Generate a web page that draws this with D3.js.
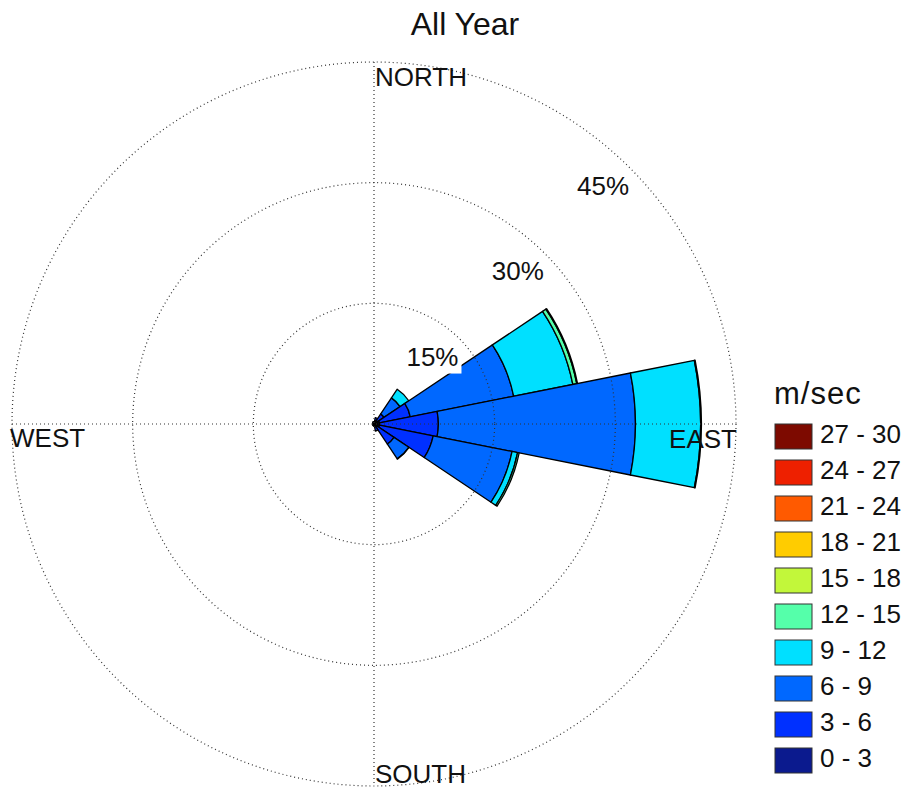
<!DOCTYPE html>
<html>
<head>
<meta charset="utf-8">
<script src="https://cdn.jsdelivr.net/npm/d3@7"></script>
<style>
  body { margin: 0; background: #fff; }
  svg text { font-family: "Liberation Sans", Arial, sans-serif; fill: #111; }
</style>
</head>
<body>
<div id="chart"></div>
<script>
const width = 907, height = 789;

// 16 compass sectors, clockwise from north
const directions = ["N","NNE","NE","ENE","E","ESE","SE","SSE","S","SSW","SW","WSW","W","WNW","NW","NNW"];
const speedBins = ["0 - 3","3 - 6","6 - 9","9 - 12","12 - 15","15 - 18","18 - 21","21 - 24","24 - 27","27 - 30"];
const binColors = ["#0b1a8e","#0030ff","#0068ff","#00e0ff","#55ffaa","#c2f73a","#ffcc00","#ff5a00","#ee2000","#7d0a00"];

// frequency (%) of each speed bin, per direction
const freq0to3   = [0.3,0.4,0.5,0.7,0.7,0.7,0.5,0.4,0.3,0.2,0.2,0.2,0.2,0.2,0.2,0.3];
const freq3to6   = [0,0.4,1.0,3.9,7.3,6.8,2.5,0.5,0,0,0,0,0,0,0,0];
const freq6to9   = [0,0,2.4,13.1,24.5,10.0,2.2,0,0,0,0,0,0,0,0,0];
const freq9to12  = [0,0,1.3,7.5,8.1,0.7,0.05,0,0,0,0,0,0,0,0,0];
const freq12to15 = [0,0,0,0.5,0.1,0.2,0,0,0,0,0,0,0,0,0,0];
const freq15to18 = [0,0,0,0.1,0,0,0,0,0,0,0,0,0,0,0,0];
const freq18to21 = [0,0,0,0,0,0,0,0,0,0,0,0,0,0,0,0];
const freq21to24 = [0,0,0,0,0,0,0,0,0,0,0,0,0,0,0,0];
const freq24to27 = [0,0,0,0,0,0,0,0,0,0,0,0,0,0,0,0];
const freq27to30 = [0,0,0,0,0,0,0,0,0,0,0,0,0,0,0,0];
const binFreqs = [freq0to3,freq3to6,freq6to9,freq9to12,freq12to15,freq15to18,freq18to21,freq21to24,freq24to27,freq27to30];

const ringTicks = [15, 30, 45];

const cx = 374, cy = 424;
const r = d3.scaleLinear().domain([0, 45]).range([0, 362]);
const step = 2 * Math.PI / directions.length;

const svg = d3.select('#chart').append('svg')
    .attr('width', width).attr('height', height);

const g = svg.append('g').attr('transform', `translate(${cx},${cy})`);

// stacked petal segments
const segments = [];
directions.forEach((dir, i) => {
  let acc = 0;
  binFreqs.forEach((arr, b) => {
    const v = arr[i];
    if (v > 0) {
      segments.push({dir: i, bin: b, inner: acc, outer: acc + v});
      acc += v;
    }
  });
});

const arc = d3.arc()
    .innerRadius(d => r(d.inner))
    .outerRadius(d => r(d.outer))
    .startAngle(d => d.dir * step - step / 2)
    .endAngle(d => d.dir * step + step / 2);

g.append('g').selectAll('path')
    .data(segments)
    .enter()
    .append('path')
    .attr('d', arc)
    .attr('fill', d => binColors[d.bin])
    .attr('stroke', '#000')
    .attr('stroke-width', 1.3)
    .attr('stroke-linejoin', 'round');

// dotted grid on top
const grid = g.append('g')
    .attr('fill', 'none')
    .attr('stroke', '#333')
    .attr('stroke-width', 1.2)
    .attr('stroke-dasharray', '1,3');

grid.selectAll('circle')
    .data(ringTicks)
    .enter()
    .append('circle')
    .attr('r', d => r(d));

grid.append('line').attr('x1', -r(45)).attr('x2', r(45)).attr('y1', 0).attr('y2', 0);
grid.append('line').attr('y1', -r(45)).attr('y2', r(45)).attr('x1', 0).attr('x2', 0);

// ring labels along 45 degrees, white backing
const ringLabels = g.append('g').selectAll('g')
    .data(ringTicks)
    .enter()
    .append('g')
    .attr('transform', d => {
      const rr = r(d) - 38;
      return `translate(${rr * Math.SQRT1_2},${-rr * Math.SQRT1_2})`;
    });

ringLabels.append('text')
    .attr('text-anchor', 'middle')
    .style('font-size', '26px')
    .text(d => d + '%');

ringLabels.each(function() {
  const grp = d3.select(this);
  const bb = grp.select('text').node().getBBox();
  grp.insert('rect', 'text')
    .attr('x', bb.x - 3).attr('y', bb.y + 1)
    .attr('width', bb.width + 6).attr('height', bb.height + 1)
    .attr('fill', '#fff');
});

// compass labels
const compass = [
  {t: 'NORTH', x: 1, y: -r(45) + 24, a: 'start'},
  {t: 'SOUTH', x: 1, y: r(45) - 3, a: 'start'},
  {t: 'WEST', x: -r(45) - 2, y: 23, a: 'start'},
  {t: 'EAST', x: r(45) + 1, y: 24, a: 'end'}
];
g.append('g').selectAll('text')
    .data(compass)
    .enter()
    .append('text')
    .attr('x', d => d.x).attr('y', d => d.y)
    .attr('text-anchor', d => d.a)
    .style('font-size', '26px')
    .text(d => d.t);

// title
svg.append('text')
    .attr('x', 465).attr('y', 35)
    .attr('text-anchor', 'middle')
    .style('font-size', '32px')
    .text('All Year');

// legend, highest speed on top
const legend = svg.append('g').attr('transform', 'translate(774,404)');
legend.append('text')
    .attr('x', 0).attr('y', 0)
    .style('font-size', '31px')
    .style('letter-spacing', '1px')
    .text('m/sec');

const legendOrder = d3.range(speedBins.length).reverse();
const ly = d3.scaleBand().domain(legendOrder).range([20, 20 + 36 * speedBins.length]);

const items = legend.selectAll('.item')
    .data(legendOrder)
    .enter()
    .append('g')
    .attr('class', 'item')
    .attr('transform', d => `translate(1,${ly(d)})`);

items.append('rect')
    .attr('width', 37).attr('height', 25)
    .attr('fill', d => binColors[d])
    .attr('stroke', '#333')
    .attr('stroke-width', 1);

items.append('text')
    .attr('x', 45).attr('y', 19)
    .style('font-size', '26px')
    .text(d => speedBins[d]);
</script>
</body>
</html>
